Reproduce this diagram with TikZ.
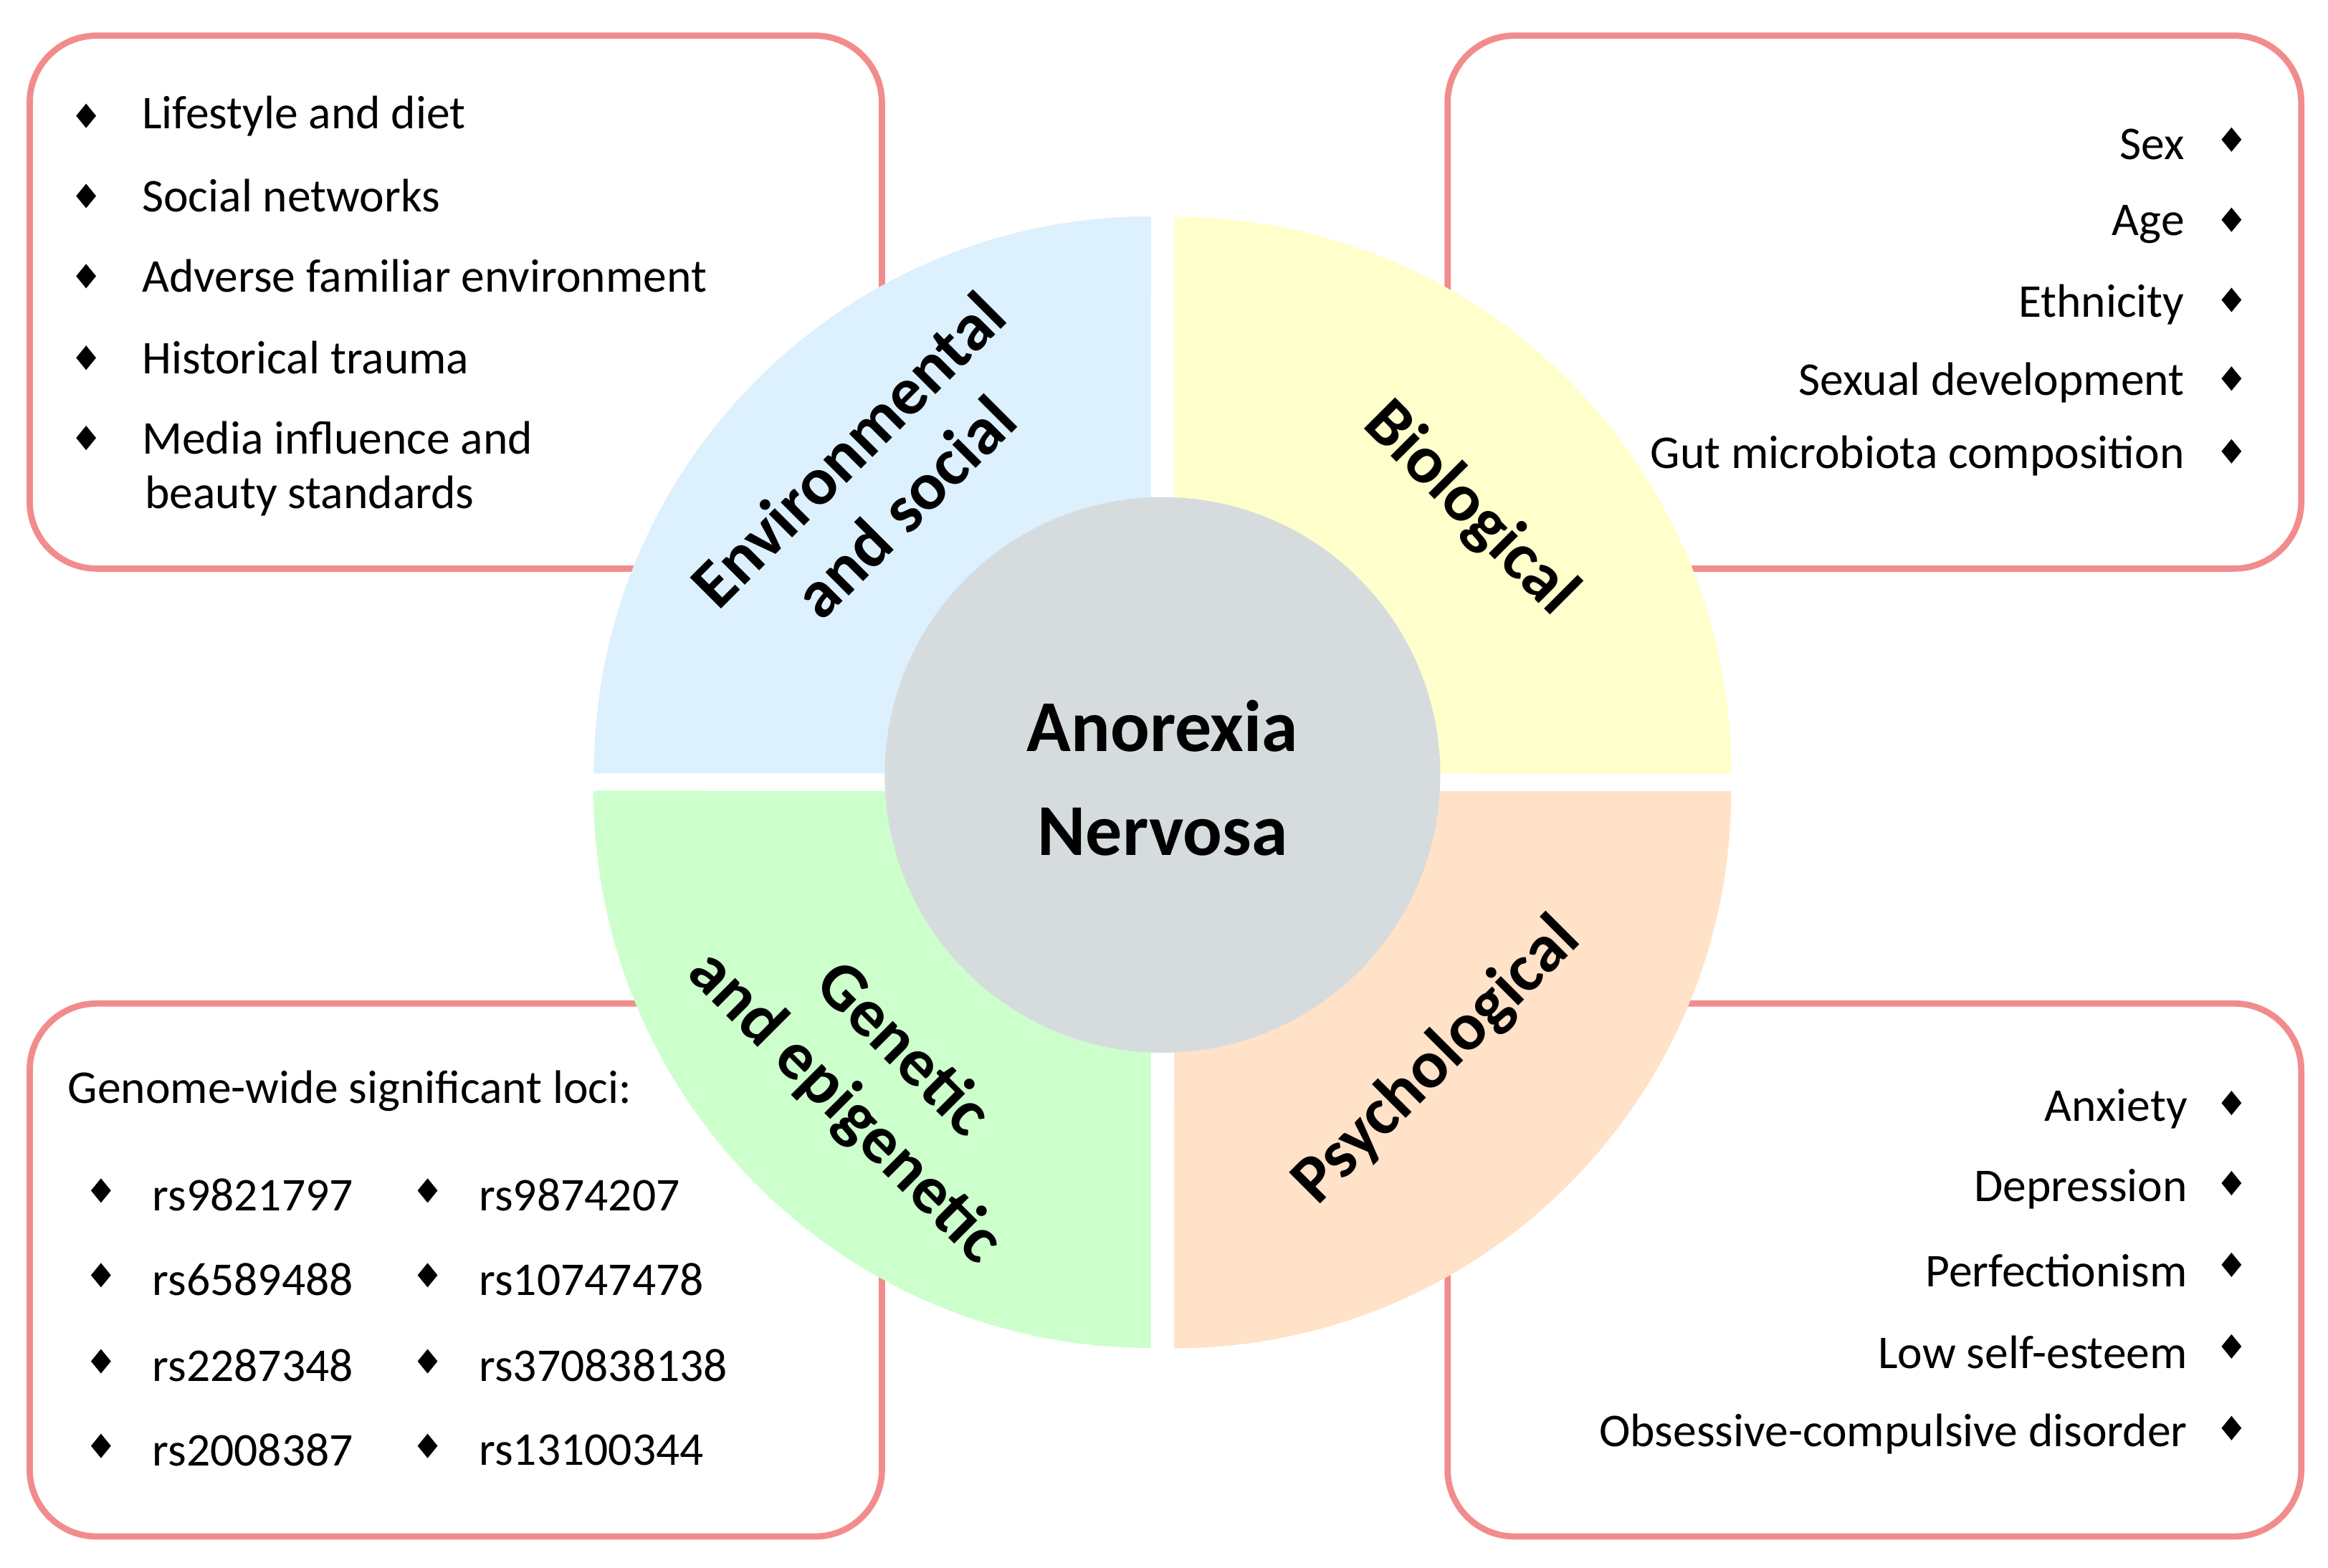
\documentclass[tikz,border=0pt]{standalone}
\usepackage{fontspec}
\setmainfont{Carlito}
\usetikzlibrary{shapes.geometric}
\definecolor{bx}{RGB}{242,140,140}
\definecolor{qa}{RGB}{220,240,254}
\definecolor{qb}{RGB}{255,255,204}
\definecolor{qc}{RGB}{204,255,204}
\definecolor{qd}{RGB}{255,226,200}
\definecolor{cc}{RGB}{214,220,222}
\begin{document}
\begin{tikzpicture}[x=0.01cm,y=-0.01cm,
 box/.style={draw=bx,line width=1.2pt,rounded corners=0.45cm},
 bul/.style={diamond,fill=black,inner sep=0pt,minimum width=0.14cm,minimum height=0.17cm},
 it/.style={font=\fontsize{9}{11}\selectfont,inner sep=0pt},
 lab/.style={font=\bfseries\fontsize{13}{15.5}\selectfont,align=center,inner sep=0pt}]
\useasboundingbox (0,0) rectangle (1568,1056);
\draw[box] (20,24) rectangle (594,383);
\draw[box] (975,24) rectangle (1550,383);
\draw[box] (20,676) rectangle (594,1035);
\draw[box] (975,676) rectangle (1550,1035);
\def\R{375}
\fill[qa] (775,521) -- ++(-\R,0) arc[start angle=180,end angle=90,radius=3.75cm] -- cycle;
\fill[qb] (791,521) -- ++(0,-\R) arc[start angle=90,end angle=0,radius=3.75cm] -- cycle;
\fill[qc] (775,533) -- ++(0,\R) arc[start angle=270,end angle=180,radius=3.75cm] -- cycle;
\fill[qd] (791,533) -- ++(\R,0) arc[start angle=0,end angle=-90,radius=3.75cm] -- cycle;
\node[circle,fill=cc,minimum size=3.74cm,inner sep=0pt] (c) at (783,522) {};
\node[lab,font=\bfseries\fontsize{14}{20}\selectfont] (an) at (783,524) {Anorexia\\Nervosa};
\node[lab,rotate=45] (env) at (590,322) {Environmental\\and social};
\node[lab,rotate=-45] (bio) at (990,343) {Biological};
\node[lab,rotate=-45] (gen) at (588,727) {Genetic\\and epigenetic};
\node[lab,rotate=45] (psy) at (968,715) {Psychological};
% TL
\foreach \t/\y/\n in {Lifestyle and diet/78/a1,Social networks/132/a2,Adverse familiar environment/186/a3,Historical trauma/241/a4,Media influence and/295/a5}{
 \node[bul] (b\n) at (58,\y) {};
 \node[it,anchor=west] (\n) at (95,\y) {\t};}
\node[it,anchor=west] (a6) at (97,334) {beauty standards};
% TR
\foreach \t/\y/\n in {Sex/97/r1,Age/151/r2,Ethnicity/205/r3,Sexual development/258/r4,Gut microbiota composition/307/r5}{
 \node[bul] (b\n) at (1503,\y-3) {};
 \node[it,anchor=east] (\n) at (1472,\y) {\t};}
% BR
\foreach \t/\y/\n in {Anxiety/747/p1,Depression/801/p2,Perfectionism/856/p3,Low self-esteem/911/p4,Obsessive-compulsive disorder/966/p5}{
 \node[bul] (b\n) at (1503,\y-4) {};
 \node[it,anchor=east] (\n) at (1474,\y) {\t};}
% BL
\node[it,anchor=west] (gw) at (45,735) {Genome-wide significant loci:};
\foreach \t/\u/\y/\n in {rs9821797/rs9874207/805/g1,rs6589488/rs10747478/862/g2,rs2287348/rs370838138/920/g3,rs2008387/rs13100344/977/g4}{
 \node[bul] (b\n) at (68,\y-3) {};
 \node[it,anchor=west] (\n) at (102,\y) {\t};
 \node[bul] (c\n) at (288,\y-3) {};
 \node[it,anchor=west] (d\n) at (322,\y) {\u};}
\end{tikzpicture}
\end{document}
